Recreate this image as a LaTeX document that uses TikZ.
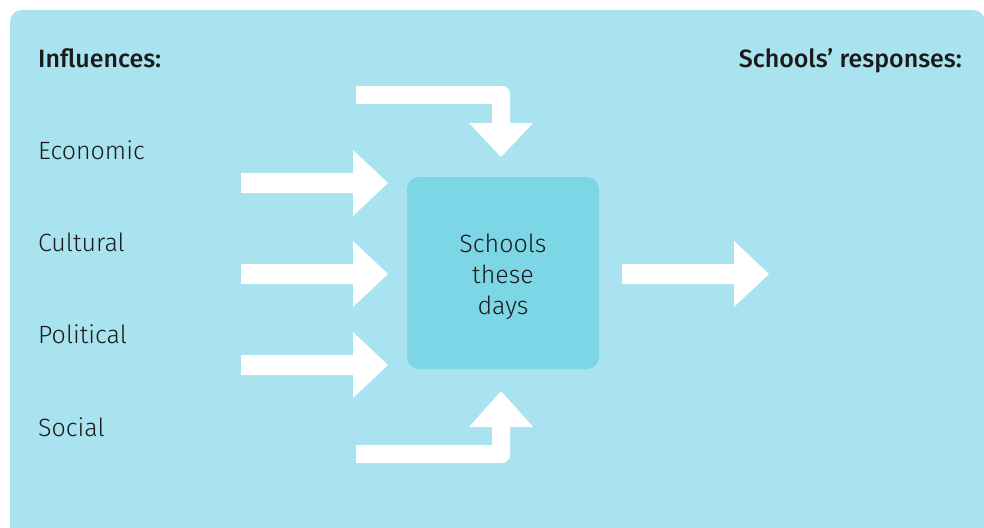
\documentclass[tikz,border=0pt]{standalone}
\usepackage{fontspec}
\setmainfont{Fira Sans}[UprightFont=* Light, BoldFont=* Medium]
\definecolor{panel}{HTML}{A8E3EF}
\definecolor{boxc}{HTML}{7DD6E6}
\definecolor{txt}{HTML}{1A1A1A}
\begin{document}
\begin{tikzpicture}[x=1pt,y=-1pt,
  lbl/.style={font=\fontsize{25}{31}\selectfont, inner sep=0pt, text=txt},
  head/.style={lbl, font=\fontsize{25}{31}\selectfont\bfseries},
  blockarrow/.style={fill=white, draw=none},
  rarr/.pic={\fill[blockarrow] (0,-10) -- (112,-10) -- (112,-33) -- (147,0) -- (112,33) -- (112,10) -- (0,10) -- cycle;}]
\useasboundingbox (0,0) rectangle (984,527);
\clip (0,0) rectangle (984,527);
\fill[panel, rounded corners=12] (10,10) rectangle (985,570);

\node[head, anchor=base west] (infl) at (38,67) {Influences:};
\node[head, anchor=base east] (resp) at (962,67) {Schools’ responses:};
\node[lbl, anchor=base west] (econ) at (38,159) {Economic};
\node[lbl, anchor=base west] (cult) at (38,251) {Cultural};
\node[lbl, anchor=base west] (poli) at (38,343) {Political};
\node[lbl, anchor=base west] (soci) at (38,436) {Social};

\node[fill=boxc, rounded corners=12, minimum width=192, minimum height=192, inner sep=0pt] (box) at (503,273) {};
\node[lbl, align=center] (boxtext) at (503,277) {Schools\\these\\days};

\pic at (241,183) {rarr};
\pic at (241,274) {rarr};
\pic at (241,365) {rarr};
\pic at (622,274) {rarr};

\fill[blockarrow] (356,86) -- (502,86) arc[start angle=270,end angle=360,radius=8] -- (510,123) -- (533,123) -- (501,157) -- (469,123) -- (492,123) -- (492,104) -- (356,104) -- cycle;
\fill[blockarrow] (356,463) -- (502,463) arc[start angle=90,end angle=0,radius=8] -- (510,427) -- (533,427) -- (501,391) -- (469,427) -- (492,427) -- (492,445) -- (356,445) -- cycle;
\end{tikzpicture}
\end{document}
